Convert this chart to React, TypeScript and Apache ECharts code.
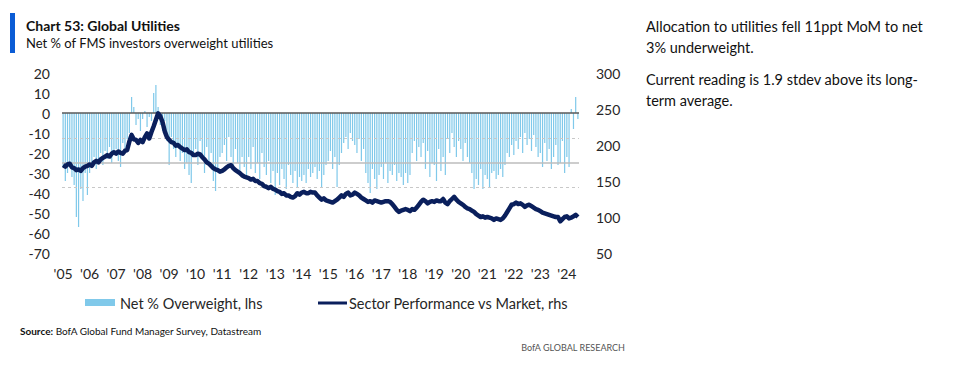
import React, { useEffect, useRef } from "react";
import * as echarts from "echarts";

// Net % of FMS investors overweight utilities (lhs), monthly Jan 2005 - Jun 2024
const netOverweight: number[] = [
  // 2005
  -27, -34, -30, -25, -32, -36, -52, -57, -38, -44, -30, -41,
  // 2006
  -30, -26, -22, -28, -24, -20, -26, -19, -23, -17, -25, -20,
  // 2007
  -18, -24, -27, -15, -20, -13, -10, 8, 3, -6, -3, -9,
  // 2008
  -3, 1, -7, -2, -4, 10, 14, 3, -6, -9, -4, -14,
  // 2009
  -26, -12, -18, -22, -15, -24, -20, -28, -25, -31, -35, -22,
  // 2010
  -18, -26, -14, -22, -30, -17, -24, -20, -34, -39, -28, -22,
  // 2011
  -20, -16, -24, -12, -22, -28, -18, -25, -30, -22, -27, -33,
  // 2012
  -22, -28, -17, -30, -25, -33, -20, -27, -31, -24, -35, -29,
  // 2013
  -41, -30, -36, -28, -33, -38, -26, -31, -35, -29, -37, -32,
  // 2014
  -34, -31, -35, -28, -32, -30, -27, -33, -29, -37, -31, -26,
  // 2015
  -24, -19, -28, -22, -37, -26, -20, -15, -12, -18, -10, -14,
  // 2016
  -16, -20, -13, -24, -18, -30, -35, -40, -28, -33, -38, -31,
  // 2017
  -27, -33, -25, -35, -29, -31, -26, -34, -30, -32, -36, -30,
  // 2018
  -35, -31, -20, -14, -24, -17, -22, -15, -28, -19, -32, -25,
  // 2019
  -26, -34, -18, -29, -22, -31, -13, -20, -10, -17, -22, -14,
  // 2020
  -18, -24, -15, -22, -25, -30, -38, -33, -36, -28, -38, -31,
  // 2021
  -33, -37, -30, -29, -33, -31, -28, -32, -26, -20, -22, -16,
  // 2022
  -21, -14, -18, -12, -20, -10, -16, -13, -19, -11, -17, -22,
  // 2023
  -20, -27, -15, -24, -18, -28, -22, -16, -26, -25, -14, -30,
  // 2024
  -22, -27, 2, -8, 8, -3,
];

// Sector performance vs market (rhs)
const sectorPerf: number[] = [
  // 2005
  172, 170, 173, 174, 169, 168, 165, 166, 164, 168, 170, 171,
  // 2006
  173, 171, 176, 178, 176, 180, 182, 184, 186, 184, 188, 190,
  // 2007
  188, 191, 189, 188, 192, 193, 205, 214, 208, 207, 203, 207,
  // 2008
  204, 211, 216, 209, 218, 226, 235, 244, 240, 232, 219, 211,
  // 2009
  207, 204, 203, 199, 200, 197, 195, 193, 194, 190, 189, 186,
  // 2010
  186, 188, 187, 183, 180, 176, 174, 171, 168, 166, 165, 163,
  // 2011
  164, 166, 169, 171, 172, 168, 165, 163, 161, 158, 156, 155,
  // 2012
  154, 152, 153, 150, 150, 147, 146, 143, 142, 140, 142, 139,
  // 2013
  138, 136, 135, 132, 133, 130, 130, 128, 127, 129, 133, 131,
  // 2014
  134, 135, 133, 133, 135, 134, 134, 130, 127, 124, 126, 123,
  // 2015
  122, 121, 120, 122, 124, 127, 130, 128, 132, 134, 130, 131,
  // 2016
  134, 132, 130, 127, 125, 123, 121, 122, 120, 123, 122, 121,
  // 2017
  120, 121, 122, 122, 121, 118, 114, 110, 107, 109, 110, 111,
  // 2018
  110, 108, 111, 110, 113, 117, 121, 124, 122, 119, 121, 122,
  // 2019
  121, 123, 122, 122, 125, 120, 118, 122, 125, 128, 124, 121,
  // 2020
  119, 117, 114, 112, 111, 109, 107, 104, 102, 100, 101, 99,
  // 2021
  100, 99, 98, 96, 98, 97, 96, 98, 102, 107, 112, 117,
  // 2022
  118, 120, 118, 119, 117, 114, 116, 117, 115, 113, 111, 110,
  // 2023
  108, 106, 105, 104, 103, 102, 101, 100, 100, 94, 97, 100,
  // 2024
  101, 98, 99, 101, 103, 100,
];

const startYear = 2005;
// Long-term average and +/- 1 stdev of net % overweight
const refMean = -24.9;
const refUpper = -12.8;
const refLower = -37;

const leftTicks = { min: -70, max: 20, interval: 10 };
const rightTicks = { min: 50, max: 300, interval: 50 };

const categories: string[] = netOverweight.map((_, i) => {
  const y = startYear + Math.floor(i / 12);
  const m = (i % 12) + 1;
  return `${y}-${m < 10 ? "0" + m : m}`;
});

const FONT = "Lato, 'Open Sans', sans-serif";
const BAR = "#80C9EA";
const NAVY = "#0A1F5C";

export default function App() {
  const ref = useRef<HTMLDivElement>(null);
  useEffect(() => {
    if (!ref.current) return;
    const chart = echarts.init(ref.current, undefined, { renderer: "svg" });
    chart.setOption({
      animation: false,
      backgroundColor: "#ffffff",
      textStyle: { fontFamily: FONT },
      grid: { left: 62, right: 374, top: 73, bottom: 116 },
      xAxis: {
        type: "category",
        data: categories,
        boundaryGap: true,
        axisLine: { show: false, onZero: false },
        axisTick: { show: false },
        axisLabel: {
          interval: (idx: number) => idx % 12 === 0,
          formatter: (v: string) => "'" + v.slice(2, 4),
          fontSize: 14,
          color: "#262626",
          margin: 13,
          fontFamily: FONT,
        },
        splitLine: { show: false },
      },
      yAxis: [
        {
          type: "value",
          ...leftTicks,
          position: "left",
          axisLine: { show: false },
          axisTick: { show: false },
          splitLine: { show: false },
          axisLabel: { fontSize: 14, color: "#262626", margin: 12, fontFamily: FONT },
        },
        {
          type: "value",
          ...rightTicks,
          position: "right",
          axisLine: { show: false },
          axisTick: { show: false },
          splitLine: { show: false },
          axisLabel: { fontSize: 14, color: "#262626", margin: 17, fontFamily: FONT },
        },
      ],
      series: [
        {
          name: "Net % Overweight, lhs",
          type: "bar",
          yAxisIndex: 0,
          data: netOverweight,
          barWidth: "55%",
          itemStyle: { color: BAR },
          z: 2,
          markLine: {
            silent: true,
            symbol: "none",
            label: { show: false },
            data: [
              { yAxis: refUpper, lineStyle: { color: "#c8c8c8", type: [3, 3], width: 1.2 } },
              { yAxis: refMean, lineStyle: { color: "#bdbdbd", type: "solid", width: 1.5 } },
              { yAxis: refLower, lineStyle: { color: "#c8c8c8", type: [3, 3], width: 1.2 } },
              { yAxis: 0, lineStyle: { color: "#595959", type: "solid", width: 1.5 } },
            ],
          },
        },
        {
          name: "Sector Performance vs Market, rhs",
          type: "line",
          yAxisIndex: 1,
          data: sectorPerf,
          symbol: "none",
          lineStyle: { color: NAVY, width: 4.5, join: "round" },
          itemStyle: { color: NAVY },
          z: 5,
        },
      ],
      graphic: [
        { type: "rect", shape: { x: 10, y: 13, width: 5, height: 40 }, style: { fill: "#0B5CD5" } },
        {
          type: "text",
          x: 26,
          y: 25,
          style: { text: "Chart 53: Global Utilities", font: `bold 14px ${FONT}`, fill: "#111", verticalAlign: "middle" },
        },
        {
          type: "text",
          x: 26,
          y: 43,
          style: { text: "Net % of FMS investors overweight utilities", font: `13px ${FONT}`, fill: "#111", verticalAlign: "middle" },
        },
        { type: "rect", shape: { x: 85, y: 299, width: 30, height: 7 }, style: { fill: BAR } },
        {
          type: "text",
          x: 120,
          y: 303,
          style: { text: "Net % Overweight, lhs", font: `14.5px ${FONT}`, fill: "#262626", verticalAlign: "middle" },
        },
        { type: "line", shape: { x1: 318, y1: 303, x2: 347, y2: 303 }, style: { stroke: NAVY, lineWidth: 3 } },
        {
          type: "text",
          x: 349,
          y: 303,
          style: { text: "Sector Performance vs Market, rhs", font: `14.5px ${FONT}`, fill: "#262626", verticalAlign: "middle" },
        },
        {
          type: "text",
          x: 20,
          y: 331,
          style: {
            text: "{b|Source:} BofA Global Fund Manager Survey, Datastream",
            verticalAlign: "middle",
            rich: {
              b: { fontWeight: "bold", fontSize: 10, fontFamily: FONT, fill: "#111" },
            },
            font: `10px ${FONT}`,
            fill: "#111",
          },
        },
        {
          type: "text",
          x: 625,
          y: 347,
          style: { text: "BofA GLOBAL RESEARCH", font: `9px ${FONT}`, fill: "#555", align: "right", verticalAlign: "middle" },
        },
        {
          type: "text",
          x: 646,
          y: 26,
          style: { text: "Allocation to utilities fell 11ppt MoM to net", font: `14.5px ${FONT}`, fill: "#111", verticalAlign: "middle" },
        },
        {
          type: "text",
          x: 646,
          y: 47,
          style: { text: "3% underweight.", font: `14.5px ${FONT}`, fill: "#111", verticalAlign: "middle" },
        },
        {
          type: "text",
          x: 646,
          y: 79,
          style: { text: "Current reading is 1.9 stdev above its long-", font: `14.5px ${FONT}`, fill: "#111", verticalAlign: "middle" },
        },
        {
          type: "text",
          x: 646,
          y: 100,
          style: { text: "term average.", font: `14.5px ${FONT}`, fill: "#111", verticalAlign: "middle" },
        },
      ],
    });
    return () => chart.dispose();
  }, []);
  return (
    <div
      ref={ref}
      style={{ position: "fixed", left: 0, top: 0, width: 953, height: 369, background: "#fff" }}
    />
  );
}
